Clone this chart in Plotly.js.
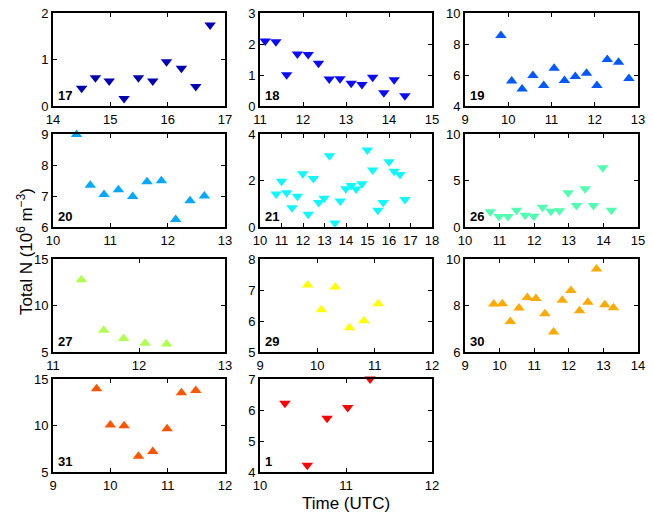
<!DOCTYPE html>
<html>
<head>
<meta charset="utf-8">
<script src="https://cdn.plot.ly/plotly-3.0.1.min.js"></script>
<style>html,body{margin:0;padding:0;background:#fff}</style>
</head>
<body>
<div id="chart" style="width:653px;height:514px"></div>
<script>
// Flight labels
var labels = ["17","18","19","20","21","26","27","29","30","31","1"];

// Time (UTC) and Total N (10^6 m^-3) for each flight
var t17 = [14.50,14.74,14.98,15.24,15.49,15.74,15.98,16.24,16.49,16.74];
var n17 = [0.38,0.61,0.54,0.16,0.61,0.54,0.95,0.81,0.42,1.74];

var t18 = [11.12,11.37,11.62,11.87,12.12,12.36,12.61,12.86,13.12,13.37,13.62,13.88,14.12,14.37];
var n18 = [2.10,2.07,1.01,1.68,1.66,1.38,0.87,0.88,0.73,0.69,0.93,0.43,0.85,0.33];

var t19 = [9.83,10.08,10.32,10.57,10.82,11.06,11.30,11.55,11.81,12.05,12.29,12.55,12.79];
var n19 = [8.55,5.62,5.10,5.96,5.32,6.44,5.64,5.90,6.12,5.32,7.00,6.83,5.77];

var t20 = [10.41,10.65,10.89,11.14,11.39,11.64,11.89,12.14,12.39,12.64];
var n20 = [8.98,7.35,7.05,7.20,6.98,7.46,7.49,6.24,6.85,7.00];

var t21 = [10.75,11.00,11.24,11.49,11.74,11.99,12.24,12.48,12.73,12.98,13.23,13.48,13.73,13.99,14.24,14.47,14.74,14.99,15.24,15.48,15.73,16.00,16.24,16.51,16.74];
var n21 = [1.42,1.97,1.47,0.83,1.32,2.29,0.55,2.09,1.05,1.24,3.06,0.17,1.12,1.65,1.78,1.63,1.86,3.31,2.45,0.72,1.05,2.81,2.40,2.26,1.18];

var t26 = [10.73,10.98,11.24,11.49,11.74,11.99,12.24,12.48,12.73,12.98,13.22,13.47,13.71,13.98,14.23];
var n26 = [1.65,1.12,1.12,1.80,1.26,1.15,2.12,1.69,1.76,3.67,2.30,4.10,2.30,6.37,1.80];

var t27 = [11.33,11.59,11.82,12.07,12.32];
var n27 = [12.77,7.34,6.44,5.94,5.86];

var t29 = [9.83,10.07,10.31,10.56,10.81,11.06];
var n29 = [7.16,6.36,7.10,5.78,6.01,6.56];

var t30 = [9.83,10.08,10.31,10.56,10.80,11.05,11.31,11.56,11.81,12.06,12.31,12.55,12.80,13.04,13.29];
var n30 = [8.06,8.07,7.31,7.89,8.34,8.30,7.64,6.86,8.23,8.64,7.77,8.14,9.57,8.03,7.90];

var t31 = [9.76,10.00,10.24,10.49,10.74,10.99,11.24,11.49];
var n31 = [13.95,10.05,9.98,6.70,7.20,9.66,13.52,13.77];

var t1 = [10.29,10.55,10.78,11.02,11.28];
var n1 = [6.22,4.22,5.73,6.08,7.00];

// Axis ranges and tick steps
var xRanges = [[14,17],[11,15],[9,13],[10,13],[10,18],[10,15],[11,13],[9,12],[9,14],[9,12],[10,12]];
var yRanges = [[0,2],[0,3],[4,10],[6,9],[0,4],[0,10],[5,15],[5,8],[6,10],[5,15],[4,7]];
var yDticks = [1,1,2,1,2,5,5,1,2,5,1];

var times = [t17,t18,t19,t20,t21,t26,t27,t29,t30,t31,t1];
var values = [n17,n18,n19,n20,n21,n26,n27,n29,n30,n31,n1];

// Styles
var colors = ["#0000b4","#0a0aff","#0058ff","#00a8ff","#10f8ff","#50ffb0","#b0ff50","#ffff00","#ffaa00","#ff5500","#ff0000"];
var symbols = ["triangle-down","triangle-down","triangle-up","triangle-up","triangle-down","triangle-down","triangle-up","triangle-up","triangle-up","triangle-up","triangle-down"];

var colDom = [[53/653,225/653],[260/653,432/653],[465/653,638/653]];
var rowDom = [[1-106/514,1-13/514],[1-227/514,1-134/514],[1-352/514,1-259/514],[1-472/514,1-379/514]];

var font = "Liberation Sans, Arial, sans-serif";
var data = [];
var layout = {
  width: 653, height: 514,
  margin: {l:0,r:0,t:0,b:0},
  paper_bgcolor: "#fff", plot_bgcolor: "#fff",
  showlegend: false,
  font: {family: font, size: 13, color: "#000"},
  annotations: []
};

for (var i = 0; i < labels.length; i++) {
  var k = i + 1;
  var xa = k === 1 ? "x" : "x" + k;
  var ya = k === 1 ? "y" : "y" + k;
  data.push({
    type: "scatter", mode: "markers",
    x: times[i], y: values[i],
    xaxis: xa, yaxis: ya,
    cliponaxis: false,
    marker: {symbol: symbols[i], size: 10, color: colors[i], line: {width: 0}}
  });
  var r = Math.floor(i / 3), c = i % 3;
  var axCommon = {
    showgrid: false, zeroline: false,
    showline: true, linecolor: "#000", linewidth: 2, mirror: "ticks",
    ticks: "inside", ticklen: 4, tickwidth: 1, tickcolor: "#000",
    tickfont: {family: font, size: 13, color: "#000"},
    fixedrange: true
  };
  layout["xaxis" + (k === 1 ? "" : k)] = Object.assign({}, axCommon, {
    domain: colDom[c], anchor: ya, range: xRanges[i], dtick: 1, tick0: 0
  });
  layout["yaxis" + (k === 1 ? "" : k)] = Object.assign({}, axCommon, {
    domain: rowDom[r], anchor: xa, range: yRanges[i], dtick: yDticks[i], tick0: 0
  });
  layout.annotations.push({
    xref: xa + " domain", yref: ya + " domain",
    x: 0.02, y: 0.01, xanchor: "left", yanchor: "bottom",
    text: "<b>" + labels[i] + "</b>", showarrow: false,
    font: {family: font, size: 13, color: "#000"}
  });
}

layout.annotations.push({
  xref: "paper", yref: "paper", x: 346/653, y: 1 - 503/514,
  xanchor: "center", yanchor: "middle",
  text: "Time (UTC)", showarrow: false,
  font: {family: font, size: 17, color: "#000"}
});
layout.annotations.push({
  xref: "paper", yref: "paper", x: 25/653, y: 1 - 252/514,
  xanchor: "center", yanchor: "middle", textangle: -90,
  text: "Total N (10<sup>6</sup> m<sup>\u22123</sup>)", showarrow: false,
  font: {family: font, size: 17, color: "#000"}
});

Plotly.newPlot("chart", data, layout, {displayModeBar: false, staticPlot: true});
</script>
</body>
</html>
